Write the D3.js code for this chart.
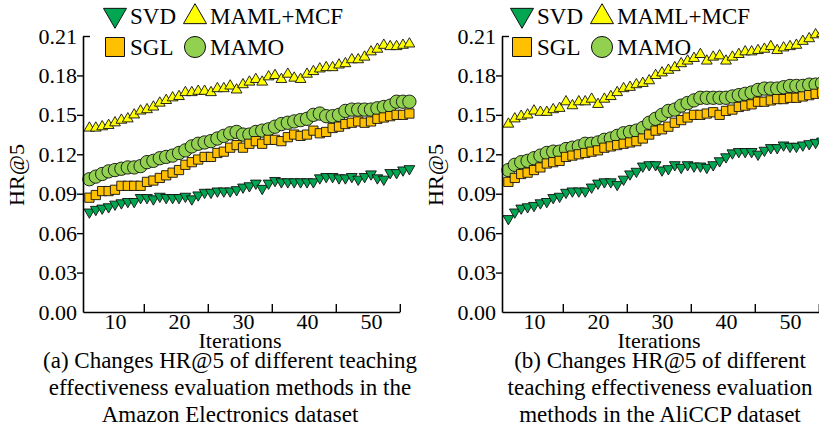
<!DOCTYPE html>
<html>
<head>
<meta charset="utf-8">
<script src="https://cdn.jsdelivr.net/npm/d3@7"></script>
<style>
  body { margin: 0; background: #fff; }
  text { font-family: "Liberation Serif", "Times New Roman", serif; fill: #000; }
</style>
</head>
<body>
<svg id="chart" width="819" height="434"></svg>
<script>
// x positions of the points (iterations)
const iterations = [6,7,8,9,10,11,12,13,14,15,16,17,18,19,20,21,22,23,24,25,26,27,28,29,30,
    31,32,33,34,35,36,37,38,39,40,41,42,43,44,45,46,47,48,49,50,51,52,53,54,55,56]

// (a) Amazon Electronics
const amazonSVD = [0.076,0.078,0.079,0.080,0.082,0.083,0.084,0.084,0.087,0.087,0.086,0.088,0.087,0.087,0.087,0.088,0.086,0.089,0.091,0.091,
    0.092,0.092,0.092,0.093,0.095,0.096,0.098,0.094,0.098,0.100,0.099,0.099,0.099,0.099,0.099,0.099,0.102,0.103,0.103,0.102,
    0.102,0.103,0.101,0.103,0.105,0.102,0.101,0.106,0.106,0.108,0.109]
const amazonMAML = [0.140,0.140,0.141,0.142,0.144,0.146,0.147,0.150,0.153,0.154,0.156,0.159,0.161,0.163,0.164,0.167,0.167,0.168,0.168,0.167,
    0.170,0.170,0.172,0.169,0.173,0.175,0.177,0.175,0.179,0.180,0.177,0.181,0.178,0.177,0.181,0.183,0.185,0.186,0.186,0.188,
    0.189,0.192,0.192,0.194,0.198,0.200,0.203,0.202,0.202,0.203,0.204]
const amazonSGL = [0.087,0.089,0.092,0.092,0.093,0.096,0.096,0.096,0.096,0.099,0.100,0.102,0.104,0.106,0.108,0.112,0.114,0.116,0.118,0.118,
    0.121,0.122,0.125,0.127,0.125,0.128,0.130,0.128,0.131,0.131,0.130,0.133,0.135,0.134,0.135,0.138,0.136,0.137,0.140,0.141,
    0.143,0.144,0.145,0.144,0.145,0.147,0.148,0.149,0.150,0.150,0.151]
const amazonMAMO = [0.101,0.103,0.105,0.107,0.108,0.109,0.110,0.110,0.111,0.114,0.115,0.117,0.118,0.119,0.121,0.123,0.126,0.128,0.129,0.130,
    0.132,0.134,0.136,0.137,0.135,0.135,0.137,0.138,0.139,0.141,0.143,0.144,0.145,0.146,0.147,0.150,0.151,0.149,0.149,0.150,
    0.153,0.154,0.154,0.154,0.154,0.155,0.156,0.157,0.160,0.160,0.160]

// (b) AliCCP
const aliSVD = [0.071,0.076,0.079,0.080,0.081,0.083,0.084,0.087,0.088,0.091,0.092,0.092,0.092,0.095,0.098,0.099,0.099,0.097,0.101,0.105,
    0.107,0.111,0.112,0.112,0.108,0.109,0.112,0.110,0.112,0.111,0.111,0.110,0.112,0.115,0.118,0.121,0.122,0.122,0.122,0.120,
    0.123,0.125,0.125,0.127,0.126,0.126,0.127,0.128,0.129,0.130,0.131]
const aliMAML = [0.143,0.147,0.149,0.150,0.153,0.152,0.152,0.154,0.155,0.160,0.157,0.160,0.160,0.162,0.158,0.162,0.164,0.167,0.170,0.171,
    0.173,0.174,0.176,0.180,0.182,0.184,0.186,0.189,0.191,0.193,0.196,0.191,0.194,0.195,0.191,0.194,0.196,0.198,0.198,0.199,
    0.200,0.202,0.199,0.201,0.202,0.203,0.206,0.208,0.211,0.212,0.214]
const aliSGL = [0.099,0.102,0.105,0.106,0.108,0.110,0.113,0.114,0.115,0.118,0.119,0.120,0.121,0.122,0.123,0.125,0.126,0.127,0.128,0.129,
    0.130,0.132,0.135,0.138,0.139,0.141,0.144,0.146,0.148,0.150,0.150,0.151,0.152,0.150,0.153,0.154,0.156,0.157,0.158,0.160,
    0.160,0.161,0.162,0.162,0.163,0.163,0.164,0.165,0.166,0.167,0.167]
const aliMAMO = [0.108,0.112,0.114,0.115,0.117,0.119,0.121,0.122,0.122,0.124,0.125,0.126,0.128,0.128,0.129,0.131,0.132,0.134,0.136,0.137,
    0.138,0.140,0.144,0.147,0.150,0.153,0.154,0.157,0.159,0.161,0.163,0.163,0.163,0.163,0.163,0.164,0.165,0.166,0.167,0.169,
    0.170,0.170,0.170,0.171,0.172,0.172,0.172,0.173,0.173,0.174,0.174]

const yTicks = [0, 0.03, 0.06, 0.09, 0.12, 0.15, 0.18, 0.21]
const xLabels = [10, 20, 30, 40, 50]
const xTickMarks = [14.5, 24.5, 34.5, 44.5, 54.5]

const names = ['SVD', 'MAML+MCF', 'SGL', 'MAMO']
const colors = { 'SVD': '#00a651', 'MAML+MCF': '#ffff00', 'SGL': '#ffc000', 'MAMO': '#92d050' }

const panels = [
    { left: 83, legendX: 115, caption: ['(a) Changes HR@5 of different teaching', 'effectiveness evaluation methods in the', 'Amazon Electronics dataset'], captionX: 230,
      data: { 'SVD': amazonSVD, 'MAML+MCF': amazonMAML, 'SGL': amazonSGL, 'MAMO': amazonMAMO } },
    { left: 502, legendX: 522, caption: ['(b) Changes HR@5 of different', 'teaching effectiveness evaluation', 'methods in the AliCCP dataset'], captionX: 660,
      data: { 'SVD': aliSVD, 'MAML+MCF': aliMAML, 'SGL': aliSGL, 'MAMO': aliMAMO } }
]

// marker shapes (size = area)
function markerPath(name, big) {
    if (name == 'SVD' || name == 'MAML+MCF') return d3.symbol(d3.symbolTriangle, big ? 230 : 50)()
    if (name == 'SGL') return d3.symbol(d3.symbolSquare, big ? 360 : 85)()
    return d3.symbol(d3.symbolCircle, big ? 350 : 140)()
}

const svg = d3.select('#chart')
const y = d3.scaleLinear().domain([0, 0.21]).range([312, 36])

for (const p of panels) {
    const x = d3.scaleLinear().domain([5, 54.5]).range([p.left, p.left + 49.5 * 6.4])
    const g = svg.append('g')

    // series, SGL drawn last
    for (const name of ['SVD', 'MAML+MCF', 'MAMO', 'SGL']) {
        const vals = p.data[name]
        g.append('g').selectAll('path')
            .data(iterations)
            .enter().append('path')
            .attr('d', markerPath(name, false))
            .attr('transform', (d, i) => 'translate(' + x(d) + ',' + y(vals[i]) + ')' + (name == 'SVD' ? ' rotate(180)' : ''))
            .attr('fill', colors[name])
            .attr('stroke', '#111')
            .attr('stroke-width', 0.9)
    }

    // y axis
    const yAxis = g.append('g')
        .attr('transform', 'translate(' + p.left + ',0)')
        .call(d3.axisLeft(y).tickValues(yTicks).tickFormat(d3.format('.2f')).tickSize(6).tickPadding(0).tickSizeOuter(0))
    yAxis.selectAll('.tick').filter(d => d == 0.21).select('line').attr('x2', 7)
    yAxis.selectAll('.tick').filter(d => d == 0).select('line').remove()

    // x axis: tick marks inward, labels in between
    g.append('g')
        .attr('transform', 'translate(0,312)')
        .call(d3.axisBottom(x).tickValues(xTickMarks).tickFormat('').tickSize(-8).tickSizeOuter(0))
    const xl = g.append('g')
        .attr('transform', 'translate(0,312)')
        .call(d3.axisBottom(x).tickValues(xLabels).tickSize(0).tickPadding(1))
    xl.select('.domain').remove()

    g.selectAll('.domain').attr('stroke', '#000').attr('stroke-width', 1.6)
    g.selectAll('.tick line').attr('stroke', '#000').attr('stroke-width', 1.4)
    g.selectAll('.tick text').attr('font-size', 22).attr('font-family', '"Liberation Serif", serif')

    g.append('text')
        .attr('transform', 'translate(' + (p.left - 59) + ',175) rotate(-90)')
        .attr('text-anchor', 'middle')
        .attr('font-size', 22)
        .text('HR@5')

    g.append('text')
        .attr('x', x(30) - 3).attr('y', 348)
        .attr('text-anchor', 'middle')
        .attr('font-size', 22)
        .text('Iterations')

    g.selectAll('.cap')
        .data(p.caption)
        .enter().append('text')
        .attr('x', p.captionX)
        .attr('y', (d, i) => 368 + i * 27)
        .attr('text-anchor', 'middle')
        .attr('font-size', 23)
        .text(d => d)

    // legend
    const legendPos = [[0, 15, 15], [80, 17, 15], [0, 47, 15], [80, 47, 15]]
    names.forEach((name, i) => {
        const lx = p.legendX + legendPos[i][0], ly = legendPos[i][1]
        g.append('path')
            .attr('d', markerPath(name, true))
            .attr('transform', 'translate(' + lx + ',' + ly + ')' + (name == 'SVD' ? ' rotate(180)' : ''))
            .attr('fill', colors[name])
            .attr('stroke', '#111')
            .attr('stroke-width', 1)
        g.append('text')
            .attr('x', lx + legendPos[i][2])
            .attr('y', (i < 2 ? 24 : 55))
            .attr('font-size', 23)
            .text(name)
    })
}
</script>
</body>
</html>
